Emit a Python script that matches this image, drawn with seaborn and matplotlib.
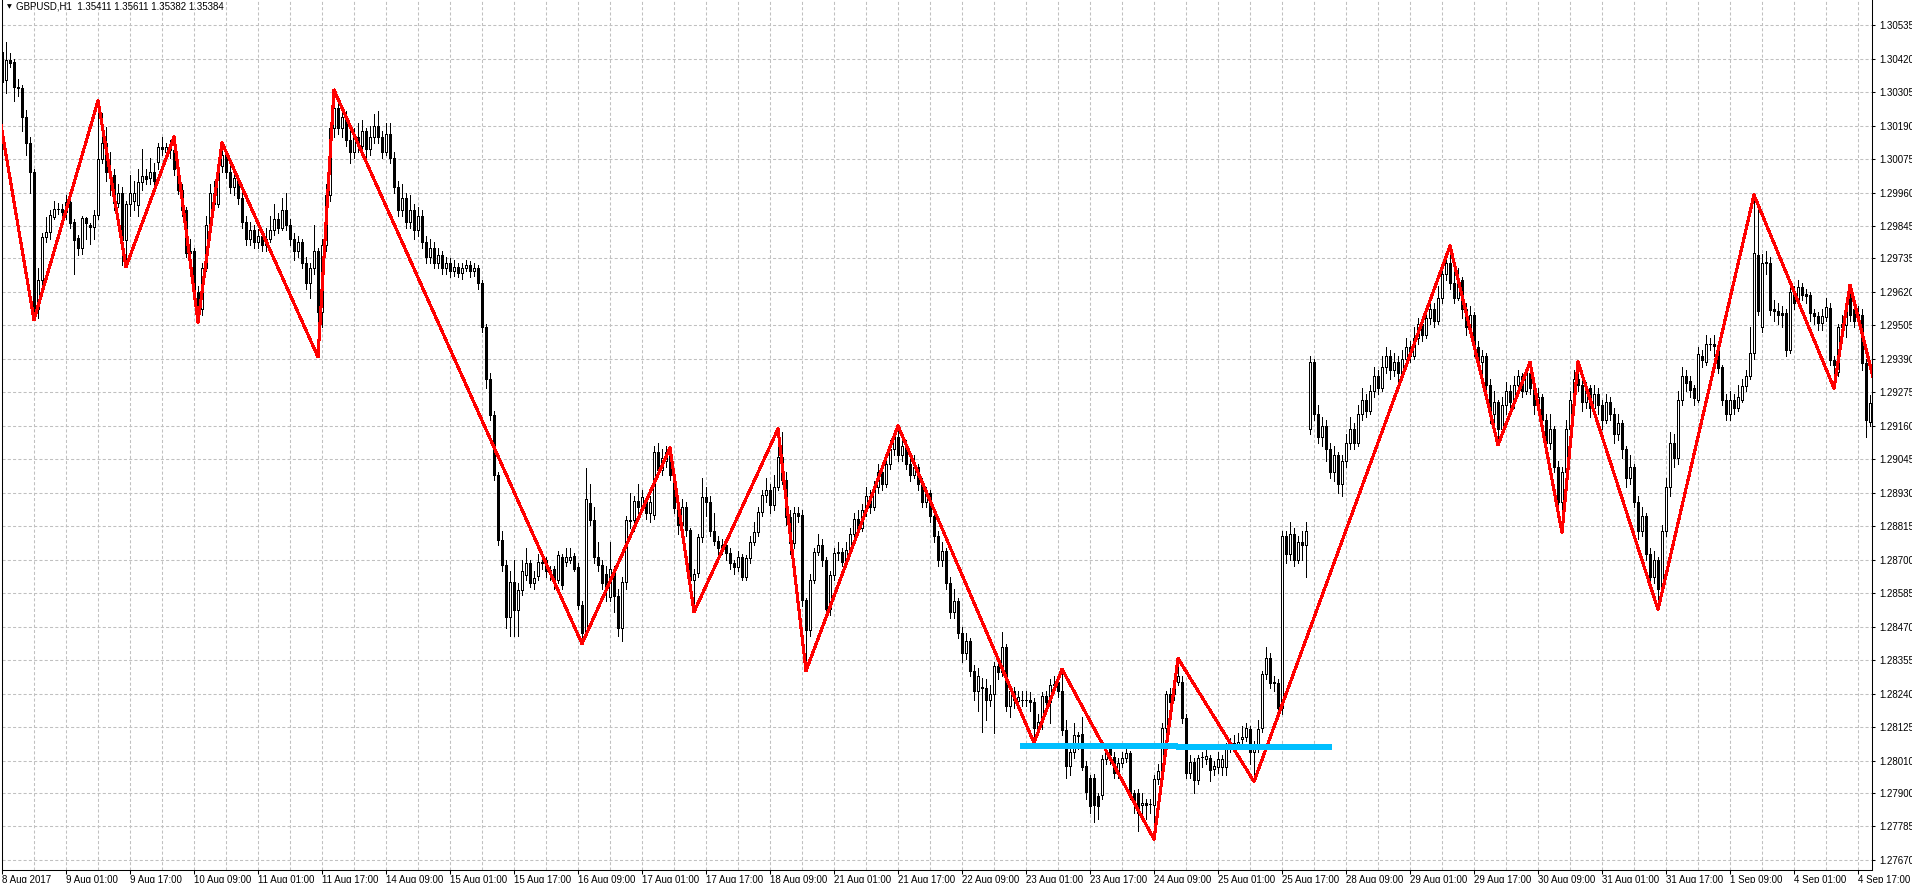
import numpy as np
import pandas as pd
import matplotlib
matplotlib.use("Agg")
import matplotlib.pyplot as plt
import seaborn as sns

# ---------------- data (prices in points of 0.00001 above BASE) ----------------
BASE = 1.27000
POINT = 0.00001

OPEN = [
    3443, 3346, 3415, 3409, 3323, 3318, 3220, 3129, 3032, 2560,
    2660, 2809, 2826, 2877, 2902, 2902, 2894, 2929, 2860, 2803,
    2769, 2872, 2849, 2841, 2883, 3074, 3130, 3030, 3020, 2925,
    2958, 2797, 2920, 2930, 2917, 2996, 3017, 3010, 3030, 3065,
    3116, 3100, 3115, 3105, 3041, 2969, 2900, 2753, 2760, 2620,
    2560, 2700, 2850, 2960, 2920, 3050, 3090, 3030, 2980, 3010,
    2940, 2860, 2800, 2830, 2790, 2810, 2780, 2800, 2830, 2870,
    2840, 2900, 2850, 2800, 2760, 2790, 2720, 2650, 2700, 2760,
    2550, 2780, 2950, 3180, 3250, 3180, 3220, 3140, 3100, 3150,
    3120, 3170, 3110, 3150, 3190, 3150, 3100, 3160, 3080, 2980,
    2900, 2940, 2860, 2900, 2830, 2880, 2790, 2740, 2770, 2720,
    2745, 2700, 2720, 2690, 2705, 2685, 2700, 2710, 2690, 2700,
    2650, 2500, 2320, 2197, 1991, 1768, 1682, 1505, 1625, 1528,
    1597, 1648, 1689, 1620, 1643, 1694, 1699, 1665, 1670, 1631,
    1711, 1694, 1700, 1713, 1675, 1545, 1452, 1895, 1837, 1710,
    1682, 1650, 1574, 1668, 1576, 1466, 1624, 1837, 1837, 1902,
    1885, 1900, 1860, 1854, 2070, 2008, 2040, 2083, 1991, 1877,
    1820, 1880, 1802, 1631, 1655, 1778, 1916, 1900, 1800, 1766,
    1740, 1750, 1724, 1688, 1677, 1711, 1642, 1705, 1762, 1797,
    1865, 1922, 1940, 1888, 1951, 2054, 1974, 1848, 1757, 1860,
    1854, 1562, 1459, 1631, 1728, 1751, 1700, 1530, 1648, 1722,
    1728, 1694, 1734, 1790, 1840, 1810, 1870, 1920, 1880, 1950,
    2000, 1960, 2030, 2080, 2120, 2060, 2090, 2030, 1990, 2020,
    1960, 1900, 1930, 1850, 1780, 1700, 1730, 1620, 1520, 1560,
    1450, 1380, 1420, 1320, 1250, 1259, 1259, 1219, 1238, 1336,
    1316, 1400, 1198, 1250, 1215, 1219, 1220, 1219, 1213, 1122,
    1142, 1233, 1213, 1270, 1282, 1250, 1116, 994, 1040, 1099,
    1101, 994, 950, 950, 889, 893, 1015, 1053, 1025, 967,
    1002, 1019, 1036, 899, 901, 858, 867, 862, 858, 947,
    976, 1124, 1238, 1238, 1282, 1282, 1156, 970, 1007, 944,
    1025, 1015, 1019, 981, 990, 990, 990, 1076, 1070, 1068,
    1084, 1093, 1118, 1042, 1059, 1122, 1308, 1362, 1282, 1278,
    1190, 1780, 1720, 1790, 1700, 1760, 1750, 2150, 2380, 2200,
    2120, 2160, 2080, 2000, 2060, 1960, 2040, 2100, 2150, 2100,
    2200, 2250, 2210, 2280, 2330, 2290, 2360, 2400, 2350, 2380,
    2340, 2390, 2430, 2400, 2460, 2510, 2470, 2530, 2560, 2520,
    2600, 2680, 2720, 2650, 2600, 2660, 2560, 2500, 2540, 2430,
    2380, 2400, 2300, 2200, 2240, 2150, 2230, 2280, 2240, 2300,
    2330, 2280, 2340, 2290, 2230, 2260, 2180, 2100, 2150, 2020,
    1900, 2000, 2150, 2250, 2320, 2300, 2240, 2290, 2220, 2270,
    2230, 2180, 2240, 2200, 2130, 2170, 2080, 1980, 2020, 1900,
    1800, 1850, 1720, 1640, 1700, 1600, 1800, 1950, 2100, 2050,
    2250, 2329, 2312, 2289, 2249, 2400, 2380, 2441, 2441, 2432,
    2363, 2249, 2200, 2250, 2220, 2249, 2297, 2329, 2409, 2746,
    2500, 2718, 2718, 2562, 2554, 2546, 2546, 2420, 2620, 2585,
    2635, 2612, 2609, 2546, 2535, 2512, 2532, 2563, 2386, 2345,
    2500, 2506, 2609, 2560, 2530, 2540, 2374, 2174,
]
HIGH = [
    3478, 3478, 3440, 3420, 3350, 3330, 3245, 3150, 3040, 2700,
    2820, 2876, 2900, 2930, 2925, 2920, 2950, 2935, 2870, 2815,
    2880, 2875, 2855, 2900, 3275, 3233, 3186, 3100, 3040, 2990,
    2980, 2930, 3020, 3000, 3040, 3110, 3040, 3080, 3060, 3130,
    3150, 3130, 3140, 3151, 3050, 2990, 2910, 2800, 2770, 2640,
    2720, 2880, 2990, 3000, 3080, 3131, 3100, 3050, 3040, 3020,
    2960, 2880, 2860, 2850, 2835, 2830, 2840, 2880, 2920, 2890,
    2940, 2960, 2870, 2820, 2810, 2800, 2740, 2720, 2850, 2770,
    2800, 2990, 3200, 3312, 3290, 3260, 3240, 3170, 3180, 3200,
    3210, 3180, 3190, 3230, 3240, 3170, 3200, 3200, 3100, 3000,
    2990, 2960, 2950, 2920, 2910, 2900, 2810, 2800, 2790, 2770,
    2760, 2740, 2735, 2730, 2720, 2720, 2730, 2725, 2720, 2710,
    2660, 2510, 2340, 2210, 2000, 1800, 1700, 1660, 1700, 1620,
    1700, 1740, 1700, 1660, 1720, 1705, 1710, 1680, 1680, 1730,
    1720, 1740, 1740, 1725, 1690, 1560, 2014, 1960, 1880, 1760,
    1700, 1680, 1760, 1680, 1600, 1640, 1850, 1930, 1920, 1960,
    1940, 1910, 1920, 2090, 2100, 2080, 2090, 2084, 2000, 1920,
    1910, 1900, 1810, 1670, 1790, 1980, 1950, 1920, 1860, 1780,
    1770, 1760, 1740, 1700, 1730, 1720, 1715, 1780, 1830, 1880,
    1940, 1980, 1960, 1990, 2149, 2140, 2000, 1870, 1880, 1880,
    1870, 1570, 1650, 1740, 1790, 1770, 1710, 1660, 1740, 1760,
    1740, 1760, 1810, 1860, 1870, 1890, 1950, 1940, 1970, 2030,
    2020, 2060, 2110, 2140, 2160, 2120, 2110, 2050, 2060, 2030,
    1980, 1950, 1940, 1870, 1800, 1760, 1740, 1640, 1600, 1570,
    1470, 1450, 1430, 1340, 1330, 1293, 1290, 1270, 1350, 1360,
    1451, 1410, 1270, 1265, 1250, 1250, 1250, 1245, 1225, 1170,
    1245, 1250, 1290, 1300, 1300, 1325, 1150, 1060, 1140, 1110,
    1160, 1010, 960, 965, 900, 1030, 1060, 1070, 1040, 1020,
    1040, 1060, 1045, 910, 915, 900, 880, 880, 960, 1000,
    1140, 1250, 1260, 1310, 1362, 1300, 1170, 1030, 1020, 1030,
    1040, 1050, 1030, 1010, 1040, 1030, 1070, 1090, 1100, 1105,
    1130, 1140, 1130, 1080, 1150, 1320, 1400, 1380, 1300, 1290,
    1800, 1800, 1830, 1810, 1780, 1800, 1830, 2400, 2390, 2230,
    2190, 2180, 2100, 2090, 2070, 2060, 2130, 2190, 2170, 2230,
    2290, 2270, 2300, 2360, 2350, 2400, 2430, 2420, 2410, 2400,
    2420, 2460, 2450, 2500, 2530, 2530, 2560, 2590, 2580, 2640,
    2710, 2760, 2777, 2700, 2700, 2670, 2580, 2570, 2550, 2450,
    2420, 2410, 2320, 2280, 2250, 2260, 2310, 2300, 2330, 2350,
    2340, 2360, 2378, 2300, 2290, 2270, 2200, 2200, 2160, 2040,
    2020, 2180, 2280, 2350, 2379, 2330, 2310, 2300, 2300, 2290,
    2250, 2270, 2260, 2220, 2200, 2180, 2090, 2060, 2030, 1920,
    1880, 1860, 1740, 1730, 1710, 1820, 1980, 2140, 2130, 2280,
    2360, 2350, 2330, 2300, 2430, 2420, 2470, 2460, 2470, 2445,
    2370, 2270, 2280, 2270, 2300, 2320, 2350, 2500, 2952, 2930,
    2750, 2760, 2740, 2590, 2580, 2570, 2560, 2650, 2640, 2660,
    2650, 2630, 2620, 2560, 2550, 2560, 2600, 2580, 2400, 2510,
    2540, 2600, 2643, 2580, 2570, 2560, 2390, 2265,
]
LOW = [
    3310, 3300, 3390, 3275, 3290, 3170, 3090, 2960, 2523, 2530,
    2640, 2790, 2800, 2870, 2885, 2860, 2870, 2840, 2680, 2745,
    2750, 2800, 2785, 2800, 2870, 3060, 3000, 2950, 2900, 2910,
    2712, 2705, 2880, 2900, 2880, 2970, 2990, 2990, 2960, 3040,
    3090, 3085, 3080, 3020, 2955, 2880, 2740, 2720, 2600, 2516,
    2540, 2690, 2830, 2900, 2910, 3030, 3010, 2960, 2950, 2920,
    2840, 2780, 2780, 2770, 2770, 2760, 2760, 2790, 2815, 2820,
    2830, 2830, 2780, 2730, 2740, 2700, 2630, 2600, 2680, 2396,
    2500, 2760, 2930, 3150, 3160, 3150, 3120, 3060, 3080, 3100,
    3100, 3080, 3090, 3130, 3130, 3080, 3090, 3060, 2960, 2880,
    2880, 2840, 2840, 2800, 2810, 2770, 2720, 2720, 2700, 2700,
    2680, 2680, 2670, 2675, 2670, 2665, 2690, 2670, 2675, 2630,
    2480, 2290, 2180, 1975, 1750, 1660, 1465, 1440, 1440, 1440,
    1580, 1630, 1605, 1600, 1630, 1670, 1640, 1630, 1600, 1620,
    1600, 1680, 1690, 1660, 1530, 1412, 1440, 1820, 1690, 1660,
    1600, 1560, 1560, 1520, 1440, 1420, 1600, 1810, 1800, 1860,
    1870, 1840, 1830, 1840, 1990, 1990, 2020, 1975, 1860, 1790,
    1800, 1780, 1600, 1521, 1640, 1760, 1850, 1780, 1750, 1720,
    1720, 1700, 1670, 1650, 1660, 1630, 1630, 1690, 1750, 1780,
    1850, 1900, 1860, 1870, 1940, 1960, 1820, 1720, 1740, 1830,
    1540, 1319, 1440, 1620, 1715, 1680, 1500, 1510, 1630, 1700,
    1680, 1680, 1720, 1770, 1790, 1800, 1850, 1860, 1870, 1930,
    1940, 1950, 2010, 2060, 2040, 2040, 2010, 1970, 1980, 1940,
    1880, 1880, 1830, 1760, 1680, 1680, 1600, 1500, 1500, 1430,
    1350, 1360, 1300, 1220, 1180, 1110, 1150, 1200, 1105, 1290,
    1300, 1180, 1160, 1190, 1190, 1200, 1200, 1180, 1072, 1100,
    1120, 1190, 1141, 1250, 1230, 1100, 950, 960, 1020, 1050,
    980, 880, 830, 800, 810, 880, 1000, 1000, 950, 950,
    990, 1005, 880, 830, 770, 830, 810, 830, 741, 930,
    960, 1110, 1190, 1220, 1270, 1140, 950, 950, 900, 930,
    990, 1000, 940, 960, 970, 960, 960, 1040, 1040, 1050,
    1070, 1080, 1000, 939, 1040, 1110, 1290, 1260, 1250, 1160,
    1170, 1690, 1700, 1680, 1690, 1700, 1640, 2130, 2180, 2100,
    2090, 2040, 1980, 1970, 1930, 1920, 2020, 2080, 2080, 2090,
    2180, 2190, 2200, 2260, 2270, 2280, 2340, 2320, 2330, 2310,
    2320, 2370, 2380, 2390, 2440, 2450, 2460, 2510, 2500, 2510,
    2580, 2660, 2630, 2580, 2590, 2530, 2470, 2480, 2400, 2360,
    2340, 2280, 2170, 2150, 2094, 2130, 2200, 2220, 2220, 2280,
    2260, 2270, 2270, 2200, 2210, 2150, 2080, 2080, 2000, 1880,
    1793, 1980, 2130, 2230, 2280, 2210, 2220, 2190, 2200, 2200,
    2150, 2170, 2180, 2100, 2110, 2050, 1950, 1960, 1880, 1770,
    1780, 1700, 1600, 1620, 1529, 1580, 1780, 1920, 2020, 2030,
    2230, 2280, 2260, 2230, 2240, 2360, 2370, 2420, 2400, 2340,
    2230, 2180, 2180, 2200, 2210, 2240, 2280, 2320, 2390, 2540,
    2480, 2680, 2540, 2520, 2510, 2500, 2400, 2410, 2560, 2570,
    2590, 2580, 2520, 2510, 2490, 2490, 2520, 2370, 2289, 2330,
    2480, 2466, 2520, 2500, 2510, 2350, 2123, 2160,
]
CLOSE = [
    3340, 3415, 3406, 3323, 3320, 3220, 3129, 3032, 2560, 2660,
    2809, 2824, 2883, 2902, 2903, 2894, 2929, 2854, 2797, 2769,
    2872, 2854, 2841, 2883, 3074, 3129, 3030, 3010, 2925, 2960,
    2797, 2920, 2958, 2960, 2995, 3017, 3005, 3030, 3000, 3116,
    3110, 3115, 3105, 3041, 2969, 2900, 2753, 2760, 2620, 2560,
    2700, 2850, 2960, 2920, 3050, 3090, 3030, 2980, 3010, 2940,
    2860, 2800, 2830, 2790, 2810, 2780, 2800, 2830, 2870, 2840,
    2900, 2850, 2800, 2760, 2790, 2720, 2650, 2700, 2760, 2550,
    2780, 2950, 3180, 3250, 3180, 3220, 3140, 3100, 3150, 3120,
    3170, 3110, 3150, 3190, 3150, 3100, 3160, 3080, 2980, 2900,
    2940, 2860, 2900, 2830, 2880, 2790, 2740, 2770, 2720, 2745,
    2700, 2720, 2690, 2705, 2685, 2700, 2710, 2690, 2700, 2650,
    2500, 2320, 2197, 1991, 1768, 1682, 1505, 1625, 1528, 1597,
    1660, 1689, 1620, 1637, 1694, 1690, 1660, 1654, 1633, 1717,
    1614, 1711, 1711, 1670, 1545, 1448, 1909, 1837, 1710, 1682,
    1620, 1600, 1668, 1576, 1466, 1624, 1837, 1832, 1902, 1880,
    1916, 1860, 1900, 2070, 2008, 2048, 2071, 1991, 1877, 1820,
    1880, 1802, 1631, 1650, 1778, 1916, 1900, 1800, 1766, 1740,
    1750, 1724, 1688, 1677, 1711, 1642, 1705, 1762, 1797, 1865,
    1922, 1940, 1888, 1951, 2054, 1974, 1848, 1757, 1860, 1850,
    1562, 1459, 1631, 1728, 1751, 1700, 1530, 1648, 1722, 1728,
    1694, 1734, 1790, 1840, 1810, 1870, 1920, 1880, 1950, 2000,
    1960, 2030, 2080, 2120, 2060, 2090, 2030, 1990, 2020, 1960,
    1900, 1930, 1850, 1780, 1700, 1730, 1620, 1520, 1560, 1450,
    1380, 1420, 1320, 1250, 1300, 1262, 1219, 1238, 1336, 1316,
    1400, 1198, 1250, 1219, 1228, 1220, 1219, 1213, 1122, 1142,
    1233, 1213, 1270, 1275, 1250, 1116, 994, 1040, 1099, 1095,
    990, 904, 855, 859, 856, 1015, 1047, 1030, 967, 1002,
    1019, 1036, 899, 870, 830, 867, 859, 862, 947, 976,
    1124, 1238, 1213, 1278, 1300, 1156, 967, 1007, 944, 1019,
    1025, 1027, 979, 993, 1015, 1015, 1050, 1059, 1070, 1076,
    1093, 1122, 1042, 1059, 1118, 1308, 1362, 1278, 1276, 1190,
    1780, 1720, 1790, 1700, 1760, 1750, 1800, 2380, 2200, 2120,
    2160, 2080, 2000, 2060, 1960, 2040, 2100, 2150, 2100, 2200,
    2250, 2210, 2280, 2330, 2290, 2360, 2400, 2350, 2380, 2340,
    2390, 2430, 2400, 2460, 2510, 2470, 2530, 2560, 2520, 2600,
    2680, 2720, 2650, 2600, 2660, 2560, 2500, 2540, 2430, 2380,
    2400, 2300, 2200, 2240, 2150, 2230, 2280, 2240, 2300, 2330,
    2280, 2340, 2290, 2230, 2260, 2180, 2100, 2150, 2020, 1900,
    2000, 2150, 2250, 2320, 2300, 2240, 2290, 2220, 2270, 2230,
    2180, 2240, 2200, 2130, 2170, 2080, 1980, 2020, 1900, 1800,
    1850, 1720, 1640, 1700, 1600, 1800, 1950, 2100, 2050, 2250,
    2329, 2308, 2283, 2255, 2407, 2384, 2441, 2440, 2432, 2357,
    2249, 2200, 2250, 2220, 2260, 2297, 2329, 2409, 2752, 2552,
    2718, 2722, 2558, 2552, 2540, 2540, 2420, 2620, 2580, 2635,
    2609, 2606, 2548, 2535, 2514, 2535, 2569, 2386, 2367, 2500,
    2510, 2575, 2540, 2520, 2545, 2374, 2180, 2237,
]

# ZigZag pivots (bar index, points); first and last lie just outside the view
ZZ_BAR = [-3, 8, 24, 31, 43, 49, 55, 79, 83, 145, 167, 173, 194, 201, 224,
          258, 265, 288, 294, 313, 362, 374, 382, 390, 394, 414, 438, 458,
          462, 470]
ZZ_PTS = [3414, 2523, 3275, 2705, 3151, 2516, 3131, 2396, 3312, 1412, 2084,
          1521, 2149, 1319, 2160, 1072, 1325, 741, 1362, 939, 2777, 2094,
          2378, 1793, 2379, 1529, 2952, 2289, 2643, 2203]

# horizontal support line drawn by hand (bar index, points)
LEVEL_BAR = [254.5, 293.7, 293.7, 332.5]
LEVEL_PTS = [1061, 1061, 1058, 1058]

Y_LABELS = ["1.30535", "1.30420", "1.30305", "1.30190", "1.30075", "1.29960",
            "1.29845", "1.29735", "1.29620", "1.29505", "1.29390", "1.29275",
            "1.29160", "1.29045", "1.28930", "1.28815", "1.28700", "1.28585",
            "1.28470", "1.28355", "1.28240", "1.28125", "1.28010", "1.27900",
            "1.27785", "1.27670"]
X_LABELS = ["8 Aug 2017", "9 Aug 01:00", "9 Aug 17:00", "10 Aug 09:00",
            "11 Aug 01:00", "11 Aug 17:00", "14 Aug 09:00", "15 Aug 01:00",
            "15 Aug 17:00", "16 Aug 09:00", "17 Aug 01:00", "17 Aug 17:00",
            "18 Aug 09:00", "21 Aug 01:00", "21 Aug 17:00", "22 Aug 09:00",
            "23 Aug 01:00", "23 Aug 17:00", "24 Aug 09:00", "25 Aug 01:00",
            "25 Aug 17:00", "28 Aug 09:00", "29 Aug 01:00", "29 Aug 17:00",
            "30 Aug 09:00", "31 Aug 01:00", "31 Aug 17:00", "1 Sep 09:00",
            "4 Sep 01:00", "4 Sep 17:00"]
TITLE = "GBPUSD,H1  1.35411 1.35611 1.35382 1.35384"

# ---------------- styling ----------------
sns.set_theme(style="white")
plt.rcParams["font.family"] = ["Liberation Sans", "DejaVu Sans"]
plt.rcParams["lines.scale_dashes"] = False

W, H = 1912, 883
FS = 7.0
fig = plt.figure(figsize=(W / 100, H / 100), dpi=100, facecolor="white")
L_PX, R_PX, T_PX, B_PX = 1.5, 1872.0, 0.0, 870.0
ax = fig.add_axes([L_PX / W, (H - B_PX) / H, (R_PX - L_PX) / W, (B_PX - T_PX) / H])
ax.set_facecolor("white")


def px_to_pts(y):
    # vertical pixel -> points (grid 1.30535 at y=25, 33.4 px per 114.6 points)
    return 3535 - (y - 25) * 114.6 / 33.4


ax.set_xlim(-0.125, 467.5)
ax.set_ylim(BASE + px_to_pts(B_PX) * POINT, BASE + px_to_pts(T_PX) * POINT)

df = pd.DataFrame({
    "bar": np.arange(len(OPEN)),
    "open": BASE + np.array(OPEN) * POINT,
    "high": BASE + np.array(HIGH) * POINT,
    "low": BASE + np.array(LOW) * POINT,
    "close": BASE + np.array(CLOSE) * POINT,
})
up = df["close"] >= df["open"]
body_lo = np.minimum(df["open"], df["close"])
body_h = (df["close"] - df["open"]).abs()

grid_kw = dict(color="#C0C0C0", linestyle=(0, (2.2, 1.6)), linewidth=0.75)

# grid
ax.set_yticks([float(s) for s in Y_LABELS])
ax.set_yticklabels(Y_LABELS)
ax.set_xticks(np.arange(0, 465, 16))
ax.set_xticklabels(X_LABELS, ha="left")
ax.set_xticks(np.arange(8, 468, 16), minor=True)
ax.grid(True, which="major", axis="both", **grid_kw)
ax.grid(True, which="minor", axis="x", **grid_kw)
ax.set_axisbelow(True)

# candles: wicks, then bodies (bull = white with black outline, bear = black)
ax.vlines(df["bar"], df["low"], df["high"], colors="black", linewidth=0.72,
          antialiased=False, zorder=3)
ax.bar(df["bar"][up], body_h[up], bottom=body_lo[up], width=0.55,
       color="white", edgecolor="black", linewidth=0.72, antialiased=False,
       zorder=4)
ax.bar(df["bar"][~up], body_h[~up], bottom=body_lo[~up], width=0.55,
       color="black", edgecolor="black", linewidth=0.72, antialiased=False,
       zorder=4)

# zigzag indicator
zz = pd.DataFrame({"bar": ZZ_BAR, "price": BASE + np.array(ZZ_PTS) * POINT})
sns.lineplot(data=zz, x="bar", y="price", color="#FF0000", linewidth=1.5,
             sort=False, estimator=None, ax=ax, zorder=5, antialiased=False)

# support level
lv = pd.DataFrame({"bar": LEVEL_BAR, "price": BASE + np.array(LEVEL_PTS) * POINT})
sns.lineplot(data=lv, x="bar", y="price", color="#00BFFF", linewidth=3.0,
             sort=False, estimator=None, ax=ax, zorder=6, antialiased=False,
             solid_capstyle="butt")

ax.set_xlabel("")
ax.set_ylabel("")

# axes / ticks
for side in ["left", "right", "bottom"]:
    ax.spines[side].set_visible(True)
    ax.spines[side].set_color("black")
    ax.spines[side].set_linewidth(0.75)
ax.spines["top"].set_visible(False)
ax.yaxis.tick_right()
ax.tick_params(axis="y", which="major", direction="out", length=2.5, width=0.75,
               pad=2.5, labelsize=FS, colors="black", left=False, right=True)
ax.tick_params(axis="x", which="major", direction="out", length=3, width=0.75,
               pad=0.5, labelsize=FS, colors="black", bottom=True)
ax.tick_params(axis="x", which="minor", length=0)

# header
fig.text(9 / W, 1 - 6.5 / H, "\u25BC", fontsize=4.5, ha="center", va="center",
         color="black", family=["DejaVu Sans"])
fig.text(16.5 / W, 1 - 6.5 / H, TITLE, fontsize=FS, ha="left", va="center",
         color="black")

fig.savefig("out.png", dpi=100, facecolor="white")
